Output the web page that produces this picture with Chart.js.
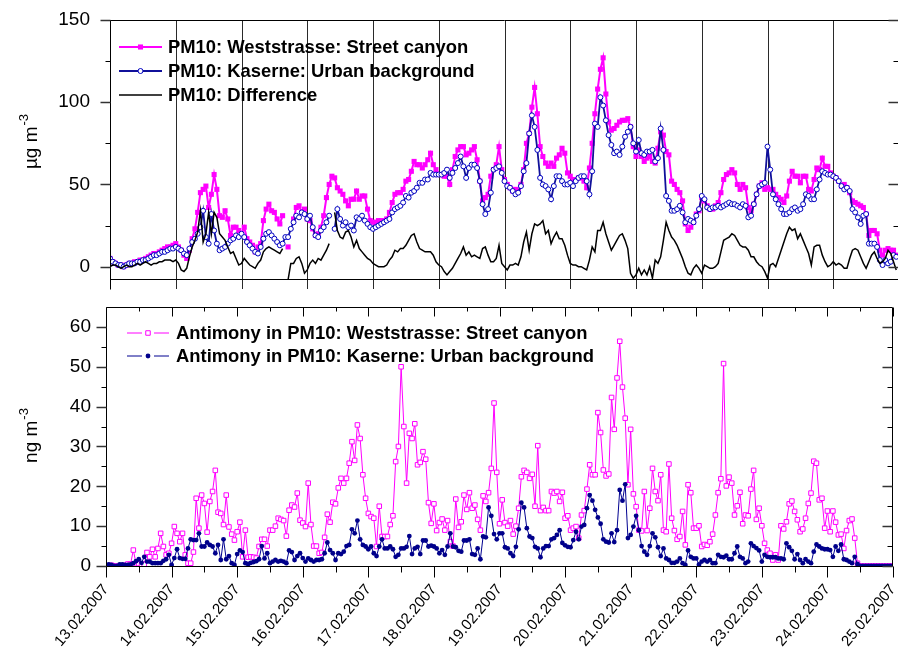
<!DOCTYPE html>
<html>
<head>
<meta charset="utf-8">
<script src="https://cdn.jsdelivr.net/npm/chart.js@4.4.1/dist/chart.umd.min.js"></script>
<style>
  html, body { margin: 0; padding: 0; background: #fff; overflow: hidden; }
  #wrap { position: relative; width: 898px; height: 658px; overflow: hidden; }
  #pm { position: absolute; left: 0; top: 0; }
  #sb { position: absolute; left: 0; top: 300px; }
</style>
</head>
<body>
<div id="wrap">
  <canvas id="pm" width="904" height="300"></canvas>
  <canvas id="sb" width="898" height="358"></canvas>
</div>
<script>
// hourly values, 13.02.2007 00:00 .. 24.02.2007 23:00
const dateLabels = ['13.02.2007', '14.02.2007', '15.02.2007', '16.02.2007', '17.02.2007', '18.02.2007',
  '19.02.2007', '20.02.2007', '21.02.2007', '22.02.2007', '23.02.2007', '24.02.2007', '25.02.2007'];
const pmTicks = [0, 50, 100, 150];
const pmMinorTicks = [25, 75, 125];
const sbTicks = [0, 10, 20, 30, 40, 50, 60];
const sbMinorTicks = [5, 15, 25, 35, 45, 55];

const pmNames = ['PM10: Weststrasse: Street canyon', 'PM10: Kaserne: Urban background', 'PM10: Difference'];
const sbNames = ['Antimony in PM10: Weststrasse: Street canyon', 'Antimony in PM10: Kaserne: Urban background'];

const westPm10 = [
  5, 3, 2, 1, 1, 0, 1, 2, 2, 3, 3, 4, 4, 5, 6, 7, 8, 8, 9, 10, 11, 12, 12, 13,
  14, 12, 10, 7, 5, 10, 17, 23, 33, 45, 47, 49, 36, 44, 56, 47, 31, 30, 34, 29, 19, 24, 24, 22,
  20, 24, 17, 15, 13, 9, 12, 14, 28, 35, 38, 34, 33, 29, 26, 31, null, 12, null, 29, 36, 37, 33, 35,
  29, 28, 23, 19, 20, 24, 31, 42, 50, 55, 54, 48, 46, 44, 40, 37, 41, 41, 46, 41, 43, 43, 35, 28,
  27, 27, 28, 28, 28, 29, 33, 39, 44, 45, 45, 47, 52, 53, 58, 64, 62, 62, 60, 62, 65, 69, 62, 59,
  56, 56, 55, 55, 50, 59, 67, 71, 73, 73, 68, 69, 71, 73, 65, 52, 40, 42, 44, 55, 59, 62, 73, 59,
  53, 50, 48, 46, 47, 46, 50, 59, 75, 81, 97, 109, 93, 73, 67, 63, 61, 63, 61, 66, 68, 72, 69, 57,
  55, 53, 53, 54, 54, 52, 48, 60, 75, 93, 108, 120, 127, 105, 88, 83, 84, 86, 88, 89, 89, 90, 85, 73,
  67, 71, 67, 64, 66, 67, 64, 63, 72, 82, 80, 70, 68, 52, 50, 47, 45, 40, 26, 22, 24, 27, 32, 34,
  42, 40, 37, 35, 35, 37, 39, 45, 53, 56, 57, 59, 57, 50, 47, 50, 48, 36, 34, 38, 44, 49, 51, 47,
  48, 47, 47, 44, 42, 41, 39, 43, 52, 58, 55, 55, 51, 55, 55, 47, 46, 53, 60, 59, 66, 61, 61, 57,
  55, 54, 52, 49, 50, 48, 45, 40, 39, 38, 37, 36, 32, 19, 22, 22, 20, 10, 7, 10, 11, 10, 10, 7,
];
const kasernePm10 = [
  5, 3, 2, 1, 1, 0, 1, 2, 2, 2, 3, 3, 4, 4, 5, 6, 7, 7, 8, 9, 9, 10, 11, 11,
  12, 11, 10, 8, 7, 11, 15, 17, 20, 24, 34, 18, 14, 32, 22, 14, 10, 11, 12, 14, 16, 17, 19, 18,
  20, 18, 15, 13, 11, 9, 8, 12, 17, 20, 21, 19, 17, 15, 13, 14, 18, 18, 23, 27, 31, 30, 33, 32,
  29, 31, 24, 19, 18, 22, 24, 27, 31, null, 23, 35, 29, 25, 27, 24, 25, 22, 30, 29, 31, 28, 26, 24,
  23, 24, 25, 26, 27, 28, 29, 33, 35, 36, 37, 39, 43, 42, 45, 46, 48, 51, 51, 53, 53, 57, 56, 56,
  56, 56, 57, 59, 54, 57, 60, 63, 67, 61, 54, 60, 62, 62, 60, 52, 38, 32, 35, 45, 59, 60, 61, 57,
  52, 49, 48, 46, 44, 45, 49, 58, 63, 81, 92, 85, 71, 54, 50, 49, 47, 41, 49, 55, 55, 52, 50, 50,
  51, 49, 52, 54, 55, 55, 52, 44, 58, 87, 85, 103, 98, 89, 80, 74, 69, 70, 68, 73, 79, 82, 85, 75,
  70, 77, 69, 68, 70, 70, 71, 64, 66, 84, 71, 43, 40, 34, 34, 35, 37, 33, 27, 29, 28, 27, 31, 35,
  43, 41, 36, 35, 36, 36, 37, 36, 37, 38, 39, 38, 38, 37, 36, 38, 37, 30, 31, 38, 44, 49, 50, 51,
  73, 59, 44, 41, 38, 35, 32, 32, 33, 35, 36, 34, 35, 38, 44, 43, 41, 41, 47, 53, 58, 57, 56, 56,
  55, 54, 52, 49, 47, 48, 46, 35, 33, 30, 26, 31, 32, 14, 14, 14, 12, 4, 1, 4, 2, 3, 7, 6,
];
const diffPm10 = [
  0, 1, 1, 0, -1, 0, 1, 0, 0, 1, 2, 1, 2, 3, 2, 1, 2, 2, 3, 3, 4, 4, 4, 3,
  4, 2, -2, -3, -1, 6, 12, 16, 21, 34, 15, 20, 33, 20, 33, 30, 20, 18, 16, 12, 8, 9, 5, 1,
  2, 5, 3, 1, 0, -1, 2, 4, 9, 11, 12, 11, 10, 9, 8, 11, null, -8, 2, 2, 5, 6, 2, -4,
  -2, 2, 4, 2, 5, 4, 7, 10, 14, null, 33, 22, 18, 17, 21, 22, 18, 12, 16, 11, 9, 7, 5, 4,
  2, 1, 0, 0, 0, 1, 4, 6, 10, 9, 11, 11, 13, 16, 19, 20, 15, 11, 10, 9, 9, 9, 7, 3,
  1, 0, -3, -5, -3, -1, 2, 5, 8, 12, 7, 9, 6, 7, 6, 5, 11, 12, 7, 3, 3, 5, 13, 2,
  0, -2, 1, 1, 2, 1, 6, 15, 21, 10, 20, 26, 25, 26, 28, 20, 22, 14, 18, 21, 17, 17, 13, 7,
  2, 1, 1, 0, 0, -1, -2, 4, 12, 9, 22, 22, 27, 20, 15, 10, 13, 16, 19, 20, 16, 11, -4, -7,
  -5, -1, -5, -2, -5, 0, -7, 4, 2, 6, 16, 27, 22, 18, 16, 13, 9, 5, 0, -4, -5, -1, 1, -1,
  -4, 1, 0, -1, -1, 0, 2, 9, 16, 17, 18, 20, 19, 16, 13, 12, 12, 10, 6, 6, 3, 1, 0, -3,
  -7, 1, 2, 0, 5, 10, 15, 20, 24, 22, 23, 17, 20, 16, 12, 8, 1, 12, 13, 13, 7, 3, 0, 1,
  3, 1, 2, 1, -1, -1, 5, 10, 11, 10, 6, 2, -1, 3, 7, 9, 5, 2, 3, 5, 10, 8, 3, -2,
];
const westSb = [
  0, 0, 0.2, 0, 0, 0, 0, 0.2, 0.5, 0.5, 4, 0.6, 0.6, 0.4, 0.4, 3.4, 2.3, 4.2, 2.3, 4.4, 8.2, 4.9, 2.8, 3.2,
  5.7, 9.9, 8.2, 6.1, 8.2, 2.8, 0.7, 0.7, 3.5, 17, 9.5, 17.8, 15.7, 8.5, 16.2, 18.7, 24, 13.5, 13.2, 10.4, 17.8, 9.8, 8, 6.5,
  8.6, 11, 2.3, 9, 2.2, 2.3, 2.2, 2, 4.9, 6.7, 6.7, 5, 9, 9, 10, 12, 11.7, 11.4, 7.5, 14, 15.3, 14.8, 18.3, 11.5,
  10.8, 9.9, 20.8, 10.4, 5, 5, 3.2, 3.4, 7.2, 13, 11, 16, 15.6, 19.6, 22, 20.8, 22, 25.8, 31.2, 26.5, 35.4, 32, 22.9, 17,
  13.2, 12.4, 12, 4.9, 15, 7.4, 7.4, 7.4, 10.4, 12.6, 26.2, 30, 50, 35, 20.8, 33.3, 32, 35.7, 25.4, 26, 28.7, 26.8, 15.9, 10.7,
  15.6, 8.9, 10.9, 11.8, 9, 11.4, 6.1, 5, 16.8, 9.7, 11.1, 17.8, 14.2, 18.4, 14.5, 15.3, 11.7, 9, 17.6, 16.2, 18.4, 24.5, 40.9, 23.5,
  10.6, 16.6, 10.9, 10, 11.4, 8, 10, 14.5, 22.4, 24, 23.5, 22, 23, 15, 30.2, 13.9, 14.7, 13.9, 13.9, 18.7, 18.3, 18.7, 16.2, 18.5,
  12, 12.6, 9, 9.5, 9.9, 7, 12.8, 13.9, 19.3, 25.4, 22.9, 22.9, 38.5, 33.5, 24.1, 22.6, 23.1, 42.3, 34.3, 47.2, 56.4, 44.9, 37.1, 20.4,
  34.3, 18.1, 14.9, 9, 8.8, 18.7, 8.9, 14.5, 24.5, 18.7, 16.4, 22.9, 9, 8.6, 25.6, 12, 8.9, 6.7, 7.4, 13.7, 5.3, 20.4, 18.4, 9.5,
  9.5, 10.1, 4.9, 5.4, 5.2, 6.1, 8, 12.8, 18.4, 21.9, 50.8, 20.1, 22.3, 20.8, 12.8, 15.1, 18.5, 10.6, 12.8, 12.6, 19.3, 24, 11.7, 14.5,
  10.1, 5.7, 4, 3.2, 1.5, 2.8, 1.5, 10.1, 9.3, 11.1, 15.6, 16.3, 13.7, 11.6, 8.6, 9.3, 12, 15.7, 18.3, 26.3, 25.8, 16.6, 17, 9.5,
  13.8, 8.6, 13.8, 11, 7.8, 8, 4.4, 8.9, 11.4, 11.8, 7, 0.7, 0, 0, 0, 0, 0, 0, 0, 0, 0, 0, 0, 0,
  0,
];
const kaserneSb = [
  0, 0.4, 0.3, 0, 0, 0.4, 0.4, 0.3, 0.3, 0.4, 0.7, 1.2, 1.7, 0.8, 2.3, 1.1, 1.1, 0.7, 0.7, 0.7, 0.7, 1.3, 1.7, 2.8,
  0.3, 2, 4.2, 2, 1.8, 1.8, 4.4, 6.7, 6.5, 6.5, 8.2, 4.9, 4.9, 5.9, 5.3, 4.9, 3.2, 5.3, 1.5, 6.7, 1.7, 2.5, 0.7, 0.3,
  3, 3.9, 3.5, 0.7, 0.5, 0.8, 1, 1.2, 1.7, 5, 1.9, 3.2, 0.7, 1.1, 1.5, 1.1, 1.3, 1.1, 0.7, 3.9, 3.5, 1.5, 2.5, 3.2,
  2, 1.1, 1.9, 1.5, 1.1, 1.5, 1.5, 1.7, 3.2, 5.9, 4, 3.2, 1.5, 3.2, 3, 3.6, 5, 5.3, 9.2, 8.2, 11.4, 6.7, 5.3, 4.9,
  4.2, 4.9, 3.2, 2.5, 4.9, 6.7, 4.4, 4.4, 4.9, 4.2, 2.3, 2.8, 4.4, 4.4, 4.8, 7.5, 3, 4.4, 4.8, 3, 6.4, 6.4, 4.9, 5.1,
  4.9, 4.4, 3.2, 4, 2.8, 4.9, 8.2, 4.9, 4.7, 3.8, 3.6, 6.4, 6.4, 6.7, 3, 2.8, 4.4, 1.7, 7.4, 7.2, 14.7, 12.6, 8, 6.7,
  8.2, 8.2, 4.7, 4.4, 3.2, 2.5, 4.8, 9.2, 15.9, 14.7, 9.5, 7.4, 7, 4.8, 4.4, 2.2, 4.4, 5, 5, 6.7, 7, 7.8, 9, 5.8,
  5.2, 4.8, 4.7, 6.5, 8.6, 6.7, 9.9, 10.3, 14.5, 17.8, 16.4, 14.1, 12.2, 10.6, 6.7, 6.1, 5.9, 8.2, 6, 9, 19.1, 16.4, 20.5, 7,
  7.8, 9.9, 12.6, 9, 5, 3.6, 2.8, 5, 8.2, 7.2, 4.7, 2.5, 4.4, 1.9, 1.5, 0.8, 0.8, 1.1, 1.9, 0.7, 0.3, 3.9, 2.3, 1.9,
  1.9, 0.4, 1.1, 1.5, 1.1, 1.5, 0.7, 0.7, 2.8, 2.3, 2.2, 2.6, 1.7, 1.7, 3.2, 4.9, 2.3, 1.9, 0.7, 1.1, 5.7, 5, 4.5, 3.9,
  1.1, 2.8, 2.3, 2.2, 2.2, 2.2, 1.9, 1.9, 1.7, 5.7, 4.7, 3.8, 1.7, 3, 1.5, 0.7, 1.7, 1.1, 0.7, 3.6, 5.4, 4.9, 4.4, 4.2,
  4.2, 4, 2.3, 4.9, 3.8, 5.4, 1.7, 1.5, 1.1, 0.7, 2.3, 0.5, 0, 0, 0, 0, 0, 0, 0, 0, 0, 0, 0, 0,
  0,
];

const FONT = '"Liberation Sans", Arial, Helvetica, sans-serif';
Chart.defaults.font.family = FONT;
Chart.defaults.color = '#000';

const dayHours = dateLabels.map((_, i) => i * 24);
const halfDayHours = dayHours.slice(0, -1).map((h) => h + 12);
const xy = (vals) => vals.map((v, i) => ({ x: i, y: v }));

function seg(ctx, x1, y1, x2, y2) {
  ctx.beginPath();
  ctx.moveTo(x1, y1);
  ctx.lineTo(x2, y2);
  ctx.stroke();
}

function marker(ctx, ds, x, y) {
  const r = ds.pointRadius;
  if (!r) return;
  ctx.beginPath();
  if (ds.pointStyle === 'rect') {
    const s = r * Math.SQRT1_2;
    ctx.rect(x - s, y - s, 2 * s, 2 * s);
  } else {
    ctx.arc(x, y, r, 0, Math.PI * 2);
  }
  ctx.fillStyle = ds.pointBackgroundColor;
  ctx.fill();
  if (ds.pointBorderWidth) {
    ctx.lineWidth = ds.pointBorderWidth;
    ctx.strokeStyle = ds.pointBorderColor;
    ctx.stroke();
  }
}

// fixed axis boxes: no extra room for overflowing tick labels
function fixBox(size) {
  return (s) => {
    if (s.isHorizontal()) s.height = size; else s.width = size;
    s.paddingTop = s.paddingBottom = s.paddingLeft = s.paddingRight = 0;
  };
}

// frame, Origin-style ticks, day lines, legend and axis title
const panelDecor = {
  id: 'panelDecor',
  beforeDatasetsDraw(chart, args, o) {
    if (!o.dayLines) return;
    const { ctx, chartArea: a, scales: { x } } = chart;
    ctx.save();
    ctx.strokeStyle = '#2a2a2a';
    ctx.lineWidth = 1;
    dayHours.forEach((h) => {
      const px = Math.round(x.getPixelForValue(h)) + 0.5;
      seg(ctx, px, a.top, px, a.bottom + o.dayLines);
    });
    ctx.restore();
  },
  afterDatasetsDraw(chart, args, o) {
    const { ctx, chartArea: a, scales: { x, y } } = chart;
    const L = Math.round(a.left) + 0.5, R = Math.round(a.right) - 0.5;
    const T = Math.round(a.top) + 0.5, B = Math.round(a.bottom) + 0.5;
    ctx.save();
    ctx.strokeStyle = '#000';
    ctx.lineWidth = 1;
    seg(ctx, L, T, R, T);
    seg(ctx, L, B, R, B);
    seg(ctx, L, T, L, B + (o.dayLines || 0));
    seg(ctx, R, T, R, B);

    // y ticks: outside on the left, inside on the right
    const yt = (vals, len) => vals.forEach((v) => {
      const py = Math.round(y.getPixelForValue(v)) + 0.5;
      seg(ctx, L - len, py, L, py);
      seg(ctx, R, py, R - len, py);
    });
    ctx.strokeStyle = '#333';
    ctx.lineWidth = 1.5;
    yt(o.yMajor, 10);
    ctx.strokeStyle = '#000';
    ctx.lineWidth = 1;
    yt(o.yMinor, 5);

    if (o.xTicks) {
      const xt = (vals, lenOut, lenIn) => vals.forEach((v) => {
        const px = Math.round(x.getPixelForValue(v)) + 0.5;
        seg(ctx, px, B, px, B + lenOut);
        seg(ctx, px, T, px, T + lenIn);
      });
      xt(dayHours, 11, 9);
      xt(halfDayHours, 6, 4);
    }

    // legend
    ctx.font = `bold ${o.legend.size}px ${FONT}`;
    ctx.textBaseline = 'middle';
    ctx.textAlign = 'left';
    chart.data.datasets.forEach((ds, i) => {
      const ly = o.legend.y + i * o.legend.dy;
      const { x0, x1 } = o.legend;
      const xm = (x0 + x1) / 2;
      ctx.strokeStyle = ds.borderColor;
      ctx.lineWidth = ds.borderWidth;
      if (o.legend.gap) {
        seg(ctx, x0, ly, xm - o.legend.gap, ly);
        seg(ctx, xm + o.legend.gap, ly, x1, ly);
      } else {
        seg(ctx, x0, ly, x1, ly);
      }
      marker(ctx, ds, xm, ly);
      ctx.fillStyle = '#000';
      ctx.fillText(ds.label, o.legend.tx, ly + 1);
    });

    // rotated axis title with superscript
    const t = o.title;
    ctx.translate(t.x, t.y);
    ctx.rotate(-Math.PI / 2);
    ctx.fillStyle = '#000';
    ctx.textBaseline = 'alphabetic';
    ctx.font = `${t.size}px ${FONT}`;
    const w1 = ctx.measureText(t.text).width;
    ctx.font = `${t.supSize}px ${FONT}`;
    const w2 = ctx.measureText(t.sup).width;
    const sx = -(w1 + w2) / 2;
    ctx.font = `${t.size}px ${FONT}`;
    ctx.fillText(t.text, sx, t.size * 0.35);
    ctx.font = `${t.supSize}px ${FONT}`;
    ctx.fillText(t.sup, sx + w1 + 1, t.size * 0.35 - t.size * 0.45);
    ctx.restore();
  },
};

const baseOpts = {
  responsive: false,
  animation: false,
  events: [],
  elements: { line: { tension: 0 } },
};

new Chart(document.getElementById('pm'), {
  type: 'line',
  data: {
    datasets: [
      {
        label: pmNames[0], data: xy(westPm10), order: 2,
        borderColor: '#ff00ff', borderWidth: 2,
        pointStyle: 'rect', pointRadius: 3.6, pointBackgroundColor: '#ff00ff', pointBorderColor: '#ff00ff', pointBorderWidth: 0,
      },
      {
        label: pmNames[1], data: xy(kasernePm10), order: 1,
        borderColor: '#10109a', borderWidth: 1.8,
        pointStyle: 'circle', pointRadius: 2.5, pointBackgroundColor: '#ffffff', pointBorderColor: '#0000c0', pointBorderWidth: 1,
      },
      {
        label: pmNames[2], data: xy(diffPm10), order: 0,
        borderColor: '#000000', borderWidth: 1.5, pointRadius: 0,
      },
    ],
  },
  options: {
    ...baseOpts,
    layout: { padding: { top: 20, right: 4, left: 0, bottom: 0 } },
    plugins: {
      legend: { display: false },
      tooltip: { enabled: false },
      panelDecor: {
        dayLines: 10,
        yMajor: pmTicks, yMinor: pmMinorTicks,
        legend: { x0: 119, x1: 162, tx: 168, y: 47, dy: 24, size: 18.4, gap: 0 },
        title: { x: 30, y: 142, text: 'µg m', sup: '-3', size: 19, supSize: 13 },
      },
    },
    scales: {
      x: {
        type: 'linear', min: 0, max: 288,
        ticks: { display: false },
        grid: { display: false, drawTicks: false },
        border: { display: false },
        afterFit: fixBox(21),
      },
      y: {
        min: -7.5, max: 150,
        afterBuildTicks: (s) => { s.ticks = pmTicks.map((v) => ({ value: v })); },
        ticks: { padding: 20, font: { size: 19 } },
        grid: { display: false, drawTicks: false },
        border: { display: false },
        afterFit: fixBox(110),
      },
    },
  },
  plugins: [panelDecor],
});

new Chart(document.getElementById('sb'), {
  type: 'line',
  data: {
    datasets: [
      {
        label: sbNames[0], data: xy(westSb), order: 1,
        borderColor: '#ff00ff', borderWidth: 1,
        pointStyle: 'rect', pointRadius: 3.2, pointBackgroundColor: '#ffffff', pointBorderColor: '#ff00ff', pointBorderWidth: 1,
      },
      {
        label: sbNames[1], data: xy(kaserneSb), order: 0,
        borderColor: '#000090', borderWidth: 1,
        pointStyle: 'circle', pointRadius: 2.4, pointBackgroundColor: '#00008b', pointBorderColor: '#00008b', pointBorderWidth: 0,
      },
    ],
  },
  options: {
    ...baseOpts,
    layout: { padding: { top: 7, right: 2, left: 0, bottom: 0 } },
    plugins: {
      legend: { display: false },
      tooltip: { enabled: false },
      panelDecor: {
        xTicks: true,
        yMajor: sbTicks, yMinor: sbMinorTicks,
        legend: { x0: 127, x1: 169, tx: 176, y: 33, dy: 23, size: 18.4, gap: 6 },
        title: { x: 30, y: 136, text: 'ng m', sup: '-3', size: 19, supSize: 13 },
      },
    },
    scales: {
      x: {
        type: 'linear', min: 0, max: 288,
        afterBuildTicks: (s) => { s.ticks = dayHours.map((v) => ({ value: v })); },
        ticks: {
          autoSkip: false, minRotation: 50, maxRotation: 50, padding: 15,
          font: { size: 15 },
          callback: (v, i) => dateLabels[i],
        },
        grid: { display: false, drawTicks: false },
        border: { display: false },
        afterFit: fixBox(92),
      },
      y: {
        min: 0, max: 65,
        afterBuildTicks: (s) => { s.ticks = sbTicks.map((v) => ({ value: v })); },
        ticks: { padding: 15, font: { size: 19 } },
        grid: { display: false, drawTicks: false },
        border: { display: false },
        afterFit: fixBox(106),
      },
    },
  },
  plugins: [panelDecor],
});
</script>
</body>
</html>
